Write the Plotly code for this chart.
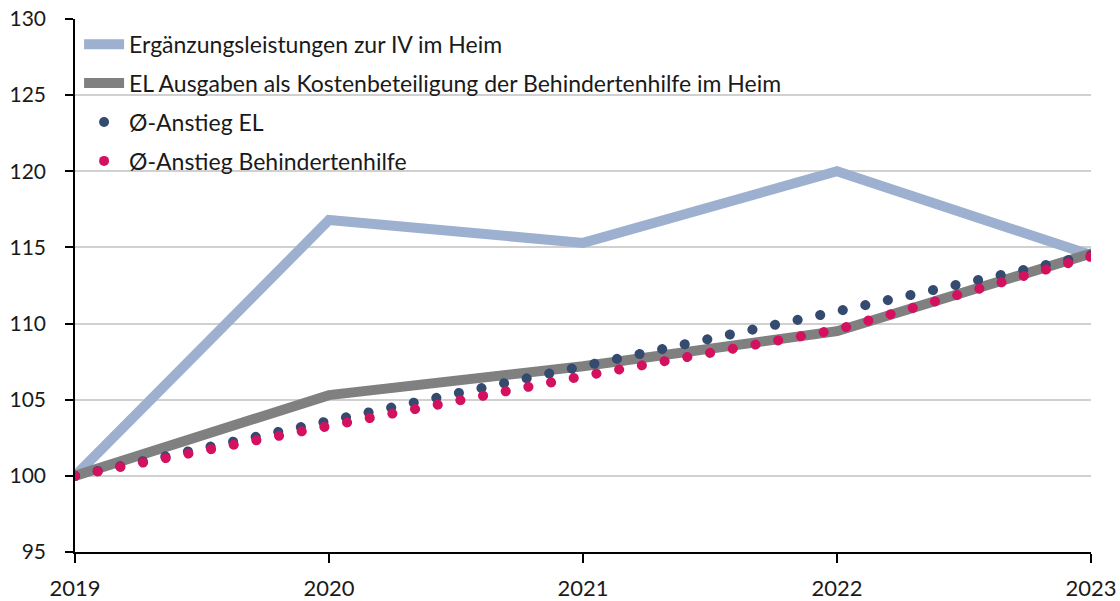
import plotly.graph_objects as go

years = [2019, 2020, 2021, 2022, 2023]
el_iv_heim = [100, 116.8, 115.3, 120.0, 114.5]
el_kostenbeteiligung = [100, 105.3, 107.2, 109.5, 114.6]
avg_el = [100, 103.55, 107.1, 110.8, 114.5]
avg_behindertenhilfe = [100, 103.3, 106.55, 109.6, 114.4]

names = [
    "Ergänzungsleistungen zur IV im Heim",
    "EL Ausgaben als Kostenbeteiligung der Behindertenhilfe im Heim",
    "Ø-Anstieg EL",
    "Ø-Anstieg Behindertenhilfe",
]
c_lightblue = "#9DB0CF"
c_gray = "#808080"
c_darkblue = "#344A6E"
c_pink = "#D3115F"

FONT = "Lato"
TXT = "#1a1a1a"

fig = go.Figure()
fig.add_trace(go.Scatter(x=years, y=el_iv_heim, mode="lines", name=names[0], legendgroup="a",
                         line=dict(color=c_lightblue, width=10)))
fig.add_trace(go.Scatter(x=years, y=el_kostenbeteiligung, mode="lines", name=names[1], legendgroup="b",
                         line=dict(color=c_gray, width=10)))
fig.add_trace(go.Scatter(x=years, y=avg_el, mode="lines", name=names[2], showlegend=False,
                         legendgroup="el",
                         line=dict(color=c_darkblue, width=10, dash="0.1px,23px")))
fig.add_trace(go.Scatter(x=years, y=avg_behindertenhilfe, mode="lines", name=names[3], showlegend=False,
                         legendgroup="bh",
                         line=dict(color=c_pink, width=10, dash="0.1px,23px")))
# legend entries (dot symbols)
fig.add_trace(go.Scatter(x=[None], y=[None], mode="markers", name=names[2], legendgroup="el",
                         marker=dict(color=c_darkblue, size=10)))
fig.add_trace(go.Scatter(x=[None], y=[None], mode="markers", name=names[3], legendgroup="bh",
                         marker=dict(color=c_pink, size=10)))

fig.update_layout(
    width=1120, height=601,
    margin=dict(l=75, r=29, t=19, b=49, autoexpand=False),
    paper_bgcolor="white", plot_bgcolor="white",
    font=dict(family=FONT, size=20, color=TXT),
    showlegend=True,
    legend=dict(x=0.004, y=0.993, xanchor="left", yanchor="top",
                bgcolor="rgba(0,0,0,0)", font=dict(family=FONT, size=23, color=TXT),
                itemwidth=40, tracegroupgap=6),
)
fig.update_xaxes(
    range=[2019, 2023], tickvals=years, ticktext=[str(y) for y in years],
    showgrid=False, showline=True, linecolor="black", linewidth=1.5,
    ticks="outside", ticklen=9, tickcolor="black", tickwidth=1.5,
    ticklabelstandoff=7,
    tickfont=dict(family=FONT, size=22, color=TXT), zeroline=False, automargin=False,
)
fig.update_yaxes(
    range=[95, 130], dtick=5, tick0=95,
    showgrid=True, gridcolor="#D0D0D0", gridwidth=1.5,
    showline=True, linecolor="black", linewidth=1.5,
    ticks="outside", ticklen=8, tickcolor="black", tickwidth=1.5,
    ticklabelstandoff=15,
    tickfont=dict(family=FONT, size=21, color=TXT), zeroline=False, automargin=False,
)

post = """
document.body.style.margin = '0';
document.body.style.padding = '0';
function roundCaps(){
  document.querySelectorAll('.scatterlayer .trace path.js-line').forEach(function(p){
    p.style.strokeLinecap = 'round';
  });
}
roundCaps();
var gd = document.getElementsByClassName('plotly-graph-div')[0];
if (gd && gd.on) { gd.on('plotly_afterplot', roundCaps); }
"""

fig.write_html("out.html", post_script=post, config={"displayModeBar": False})
